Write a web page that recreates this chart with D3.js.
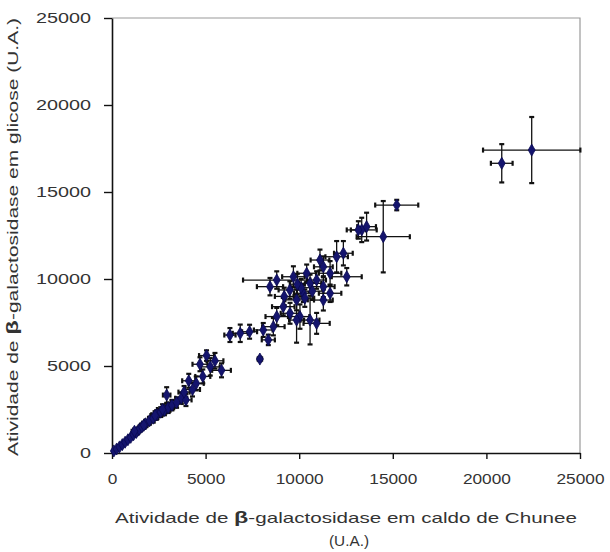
<!DOCTYPE html>
<html>
<head>
<meta charset="utf-8">
<script src="https://cdn.jsdelivr.net/npm/d3@7"></script>
<style>
  html, body { margin: 0; padding: 0; background: #fff; }
  svg { display: block; }
  text { font-family: "Liberation Sans", Arial, sans-serif; fill: #333; }
</style>
</head>
<body>
<svg id="chart" width="610" height="552"></svg>
<script>
// ---- data ----
const xVals = [100,250,400,550,700,850,1000,1150,1300,1450,1600,1800,2000,2200,2400,2600,2800,3000,2920,3200,3450,3700,3950,3850,4100,4300,4500,4850,5050,5250,5850,5500,4700,
  6300,6850,7350,8080,7900,8350,
  8800,9500,10220,9860,10580,10930,11290,9150,8800,9510,10040,10580,10930,8620,11290,11650,12000,12360,12540,11110,10400,9690,8440,11650,11290,9860,
  13340,13600,13160,14490,15210,20820,22420,
  1200,1700,2300,2700,9200,10100,10700,9900,10300];
const yVals = [120,230,350,480,620,760,900,1050,1180,1350,1500,1680,1850,2000,2200,2350,2450,2600,3330,2750,2900,3150,3050,3500,4150,3650,4000,4400,5600,4950,4750,5300,5100,
  6780,6880,6970,7070,5400,6500,
  9940,9370,9180,8800,9750,9940,9560,8410,7840,8030,7840,7640,7450,7260,10700,10330,11280,11480,10130,11090,10330,10130,9560,9180,8790,7640,
  12820,13010,12820,12430,14250,16650,17410,
  1250,1600,2150,2500,9000,9500,9300,9700,8900];
const xErr = [40,50,60,70,80,90,100,110,150,160,180,200,250,250,300,300,320,320,200,300,300,320,300,300,350,400,400,400,400,500,500,450,400,
  300,400,400,500,120,350,
  1800,600,500,600,600,500,600,600,600,500,500,500,700,600,500,600,600,500,800,500,500,600,700,600,500,400,
  800,500,400,1420,1150,580,2600,
  150,200,250,300,500,500,600,400,500];
const yErr = [40,50,60,70,80,90,100,110,150,160,180,200,220,250,250,280,280,300,450,300,300,320,350,350,400,400,400,400,300,500,400,450,400,
  400,500,400,400,120,300,
  500,500,500,600,500,500,600,500,500,600,700,1400,600,500,600,700,900,700,500,600,500,600,500,500,600,1300,
  700,800,500,2050,300,1100,1900,
  150,200,250,300,500,500,500,600,500];
const xTicks = [0,5000,10000,15000,20000,25000];
const yTicks = [0,5000,10000,15000,20000,25000];
const xTitle = ["Atividade de ", "β", "-galactosidase em caldo de Chunee"];
const xTitle2 = "(U.A.)";
const yTitle = ["Atividade de ", "β", "-galactosidase em glicose (U.A.)"];

const points = xVals.map((x, i) => ({x, y: yVals[i], ex: xErr[i], ey: yErr[i]}));

const svg = d3.select("#chart");
const L = 112, R = 580, T = 18, B = 453;
const x = d3.scaleLinear().domain([0, 25000]).range([L, R]);
const y = d3.scaleLinear().domain([0, 25000]).range([B, T]);

// plot border (top/right grey)
svg.append("path")
  .attr("d", `M${L},${T}H${R}V${B}`)
  .attr("fill", "none").attr("stroke", "#9a9a9a").attr("stroke-width", 1.2);

// axes
const fmt = d3.format("d");
const gx = svg.append("g").attr("transform", `translate(0,${B})`)
  .call(d3.axisBottom(x).tickValues(xTicks).tickFormat(fmt).tickSize(6).tickSizeOuter(0).tickPadding(14));
const gy = svg.append("g").attr("transform", `translate(${L},0)`)
  .call(d3.axisLeft(y).tickValues(yTicks).tickFormat(fmt).tickSize(8).tickSizeOuter(0).tickPadding(13));
[gx, gy].forEach(g => {
  g.select(".domain").attr("stroke", "#111").attr("stroke-width", 1.6);
  g.selectAll(".tick line").attr("stroke", "#111").attr("stroke-width", 1.4);
  g.selectAll(".tick text").attr("font-size", 15).attr("fill", "#444")
    .attr("font-family", "Liberation Sans, Arial, sans-serif");
});
gx.selectAll(".tick text").each(function(d) {
  const s = fmt(d);
  d3.select(this).attr("textLength", s.length * 9.6).attr("lengthAdjust", "spacingAndGlyphs");
});
gy.selectAll(".tick text").each(function(d) {
  const s = fmt(d);
  d3.select(this).attr("textLength", s.length * 11).attr("lengthAdjust", "spacingAndGlyphs");
});

// error bars
const eb = svg.append("g").attr("stroke", "#111").attr("fill", "none");
const cap = 2.5;
points.forEach(p => {
  const cx = x(p.x), cy = y(p.y);
  const x0 = x(Math.max(0, p.x - p.ex)), x1 = x(p.x + p.ex);
  const y0 = y(Math.max(0, p.y - p.ey)), y1 = y(p.y + p.ey);
  eb.append("line").attr("x1", x0).attr("x2", x1).attr("y1", cy).attr("y2", cy).attr("stroke-width", 1.3);
  eb.append("line").attr("x1", cx).attr("x2", cx).attr("y1", y0).attr("y2", y1).attr("stroke-width", 1.3);
  [x0, x1].forEach(xx => eb.append("line").attr("x1", xx).attr("x2", xx)
    .attr("y1", cy - cap).attr("y2", cy + cap).attr("stroke-width", 2.2));
  [y0, y1].forEach(yy => eb.append("line").attr("y1", yy).attr("y2", yy)
    .attr("x1", cx - cap).attr("x2", cx + cap).attr("stroke-width", 2.2));
});

// markers
svg.append("g").selectAll("path").data(points).join("path")
  .attr("transform", d => `translate(${x(d.x)},${y(d.y)})`)
  .attr("d", d3.symbol().type(d3.symbolDiamond).size(42))
  .attr("fill", "#14146e").attr("stroke", "#0a0a50").attr("stroke-width", 0.8);

// x title
const xt = svg.append("text").attr("x", 346).attr("y", 523).attr("text-anchor", "middle")
  .attr("font-size", 15).attr("textLength", 462).attr("lengthAdjust", "spacingAndGlyphs");
xt.append("tspan").text(xTitle[0]);
xt.append("tspan").attr("font-weight", "bold").attr("font-size", 17).text(xTitle[1]);
xt.append("tspan").text(xTitle[2]);
svg.append("text").attr("x", 349).attr("y", 546).attr("text-anchor", "middle")
  .attr("font-size", 15).attr("textLength", 40).attr("lengthAdjust", "spacingAndGlyphs").text(xTitle2);

// y title
const yt = svg.append("text").attr("transform", "translate(18,237) rotate(-90)")
  .attr("text-anchor", "middle").attr("font-size", 15)
  .attr("textLength", 438).attr("lengthAdjust", "spacingAndGlyphs");
yt.append("tspan").text(yTitle[0]);
yt.append("tspan").attr("font-weight", "bold").attr("font-size", 17).text(yTitle[1]);
yt.append("tspan").text(yTitle[2]);
</script>
</body>
</html>
